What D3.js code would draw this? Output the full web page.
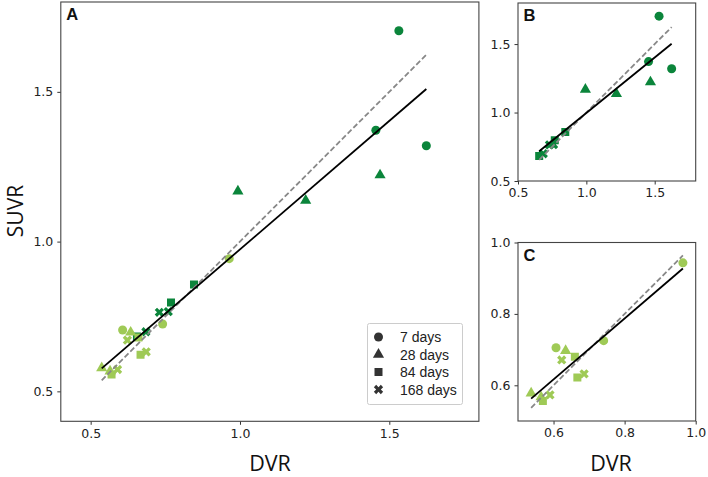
<!DOCTYPE html>
<html><head><meta charset="utf-8">
<script src="https://cdn.jsdelivr.net/npm/d3@7"></script>
<style>
body{margin:0;background:#fff;}
svg{display:block;}
.tick text{font-family:"DejaVu Sans",sans-serif;font-size:12.5px;fill:#222;}
.tick line{stroke:#333;}
</style></head>
<body>
<svg id="chart" width="708" height="477"></svg>
<script>
// ---- data ----
const timepoints = ["7 days", "28 days", "84 days", "168 days"];
const darkTime  = [0,0,0, 1,1,1, 2,2,2, 3,3,3];
const darkDVR   = [1.532,1.455,1.624, 0.993,1.220,1.469, 0.846,0.769,0.655, 0.730,0.760,0.685];
const darkSUVR  = [1.704,1.372,1.320, 1.168,1.137,1.222, 0.857,0.797,0.683, 0.764,0.766,0.699];
const lightTime = [0,0,0, 1,1,1, 2,2,2, 3,3,3];
const lightDVR  = [0.607,0.741,0.964, 0.537,0.634,0.565, 0.660,0.667,0.570, 0.623,0.686,0.590];
const lightSUVR = [0.705,0.725,0.943, 0.578,0.697,0.567, 0.680,0.622,0.556, 0.671,0.632,0.573];
// regression fits (slope, intercept)
const fitAll   = [0.858, 0.116];
const fitDark  = [0.810, 0.187];
const fitLight = [0.854, 0.104];
const ticksAB = [0.5, 1.0, 1.5];
const ticksC  = [0.6, 0.8, 1.0];

const darkColor = "#0b853b", lightColor = "#9fca56";
const svg = d3.select("#chart");

const symbolTypes = [d3.symbolCircle, d3.symbolTriangle, d3.symbolSquare, d3.symbolCross];
const symbolSizes = [64, 54, 64, 54];
function symPath(t){ return d3.symbol().type(symbolTypes[t]).size(symbolSizes[t])(); }

function panel(cfg){
  const g = svg.append("g");
  const x = d3.scaleLinear().domain(cfg.xd).range(cfg.xr);
  const y = d3.scaleLinear().domain(cfg.yd).range(cfg.yr);
  const xa = g.append("g").attr("transform", `translate(0,${cfg.yr[0]})`)
    .call(d3.axisBottom(x).tickValues(cfg.ticks).tickFormat(d3.format(".1f")).tickSize(3.5).tickPadding(4));
  const ya = g.append("g").attr("transform", `translate(${cfg.xr[0]},0)`)
    .call(d3.axisLeft(y).tickValues(cfg.ticks).tickFormat(d3.format(".1f")).tickSize(3.5).tickPadding(4));
  xa.select(".domain").remove(); ya.select(".domain").remove();
  g.append("rect").attr("x", cfg.xr[0]).attr("y", cfg.yr[1])
    .attr("width", cfg.xr[1]-cfg.xr[0]).attr("height", cfg.yr[0]-cfg.yr[1])
    .attr("fill","none").attr("stroke","#444").attr("stroke-width",1.1);
  const clipId = "clip"+cfg.label;
  g.append("clipPath").attr("id",clipId).append("rect")
    .attr("x", cfg.xr[0]).attr("y", cfg.yr[1])
    .attr("width", cfg.xr[1]-cfg.xr[0]).attr("height", cfg.yr[0]-cfg.yr[1]);
  const pg = g.append("g").attr("clip-path",`url(#${clipId})`);
  cfg.groups.forEach(gr => {
    pg.selectAll(null).data(d3.range(gr.dvr.length)).enter().append("path")
      .attr("d", i => symPath(gr.time[i]))
      .attr("transform", i => `translate(${x(gr.dvr[i])},${y(gr.suvr[i])})` + (gr.time[i]===3 ? " rotate(45)" : ""))
      .attr("fill", gr.color);
  });
  // identity (dashed) and fit (solid) lines over the data range
  const xs = d3.extent(cfg.groups.flatMap(gr => gr.dvr));
  pg.append("line")
    .attr("x1", x(xs[0])).attr("y1", y(xs[0])).attr("x2", x(xs[1])).attr("y2", y(xs[1]))
    .attr("stroke","#888").attr("stroke-width",1.8).attr("stroke-dasharray","5.5,2.6");
  pg.append("line")
    .attr("x1", x(xs[0])).attr("y1", y(cfg.fit[0]*xs[0]+cfg.fit[1]))
    .attr("x2", x(xs[1])).attr("y2", y(cfg.fit[0]*xs[1]+cfg.fit[1]))
    .attr("stroke","#000").attr("stroke-width",1.8);
  g.append("text").attr("x", cfg.xr[0]+5.5).attr("y", cfg.yr[1]+18)
    .attr("font-family","Liberation Sans, Arial, sans-serif").attr("font-weight","bold")
    .attr("font-size",16.5).attr("fill","#111").text(cfg.label);
  return {x, y};
}

const dark  = {dvr: darkDVR,  suvr: darkSUVR,  time: darkTime,  color: darkColor};
const light = {dvr: lightDVR, suvr: lightSUVR, time: lightTime, color: lightColor};

panel({label:"A", xd:[0.4,1.8], yd:[0.4,1.8], xr:[60.8,478.9], yr:[421.3,2], ticks:ticksAB, groups:[dark, light], fit:fitAll});
panel({label:"B", xd:[0.5,1.8], yd:[0.5,1.8], xr:[518,695.7], yr:[181,3], ticks:ticksAB, groups:[dark], fit:fitDark});
panel({label:"C", xd:[0.5,1.0], yd:[0.5,1.0], xr:[518,695.7], yr:[421,242.5], ticks:ticksC, groups:[light], fit:fitLight});

// legend
const lg = svg.append("g");
lg.append("rect").attr("x",367.5).attr("y",323.5).attr("width",95).attr("height",81)
  .attr("rx",2).attr("fill","#fff").attr("stroke","#ccc").attr("stroke-width",1);
timepoints.forEach((t,i) => {
  const cy = 337 + i*17.5;
  lg.append("path").attr("d", symPath(i))
    .attr("transform", `translate(378.5,${cy})` + (i===3 ? " rotate(45)" : ""))
    .attr("fill","#333");
  lg.append("text").attr("x",400).attr("y",cy+5)
    .attr("font-family","Liberation Sans, Arial, sans-serif").attr("font-size",14)
    .attr("fill","#222").text(t);
});

// axis titles
const titleFont = "Open Sans, Noto Sans, sans-serif";
svg.append("text").attr("transform","translate(22.5,211) rotate(-90)").attr("text-anchor","middle")
  .attr("font-family",titleFont).attr("font-size",21).attr("fill","#111").text("SUVR");
svg.append("text").attr("x",270).attr("y",471).attr("text-anchor","middle")
  .attr("font-family",titleFont).attr("font-size",21.5).attr("fill","#111").text("DVR");
svg.append("text").attr("x",611).attr("y",471).attr("text-anchor","middle")
  .attr("font-family",titleFont).attr("font-size",21.5).attr("fill","#111").text("DVR");
</script>
</body></html>
